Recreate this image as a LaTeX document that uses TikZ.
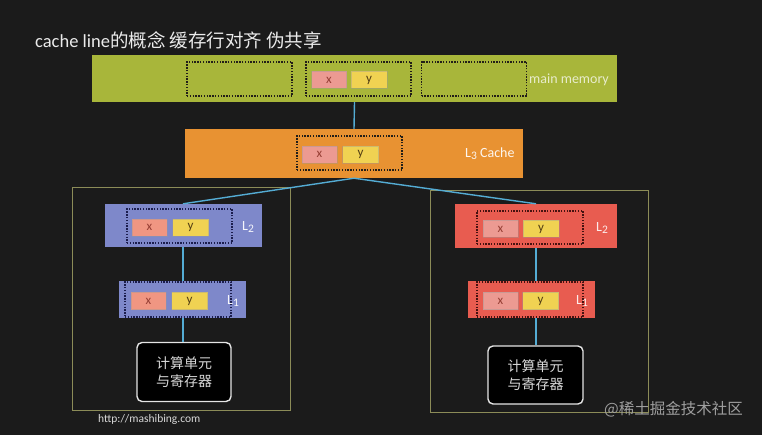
\documentclass[tikz,border=0pt]{standalone}
\usepackage{fontspec}
\setmainfont{Carlito}
\newfontfamily\cjk{Noto Sans CJK SC}
\usetikzlibrary{positioning,calc}
\definecolor{boardbg}{RGB}{27,27,27}
\definecolor{memgreen}{RGB}{168,182,58}
\definecolor{lthreeorange}{RGB}{232,146,50}
\definecolor{coreblue}{RGB}{126,136,202}
\definecolor{corered}{RGB}{232,92,80}
\definecolor{xpink}{RGB}{236,154,146}
\definecolor{yyellow}{RGB}{240,210,82}
\definecolor{dotdark}{RGB}{34,30,24}
\definecolor{dotnavy}{RGB}{28,30,78}
\definecolor{dotred}{RGB}{70,18,16}
\definecolor{wireblue}{RGB}{84,172,212}
\definecolor{frameolive}{RGB}{140,140,88}
\definecolor{memtext}{RGB}{232,236,204}
\newcommand{\lvlsub}[1]{\raisebox{-0.35ex}{\fontsize{11.5}{12}\selectfont #1}}
\tikzset{
    % Define bar and cell styles
    levelbar/.style={
        rectangle, draw=none, inner sep=0pt
    },
    linebox/.style={
        rectangle, draw=#1, line width=1.5pt,
        dash pattern=on 1.4pt off 1.4pt,
        minimum width=105pt, minimum height=34pt, inner sep=0pt
    },
    xcell/.style={
        rectangle, fill=xpink, draw=black!40, draw opacity=0.4,
        minimum width=35pt, minimum height=17pt, inner sep=0pt,
        text={rgb,255:red,150;green,62;blue,52},
        font=\fontsize{13}{15}\selectfont
    },
    ycell/.style={
        rectangle, fill=yyellow, draw=black!40, draw opacity=0.4,
        minimum width=36pt, minimum height=17pt, inner sep=0pt,
        text={rgb,255:red,82;green,62;blue,20},
        font=\fontsize{13}{15}\selectfont
    },
    levellabel/.style={
        anchor=west, inner sep=0pt, text=white!92!coreblue,
        font=\fontsize{14}{16}\selectfont
    },
    cpubox/.style={
        rectangle, draw=white!90!black, fill=black, line width=1.4pt,
        rounded corners=5pt, minimum width=94pt, minimum height=59pt,
        align=center, text=white!85!black,
        font=\cjk\fontsize{14}{18}\selectfont
    },
    coreframe/.style={
        rectangle, draw=frameolive, line width=0.9pt, inner sep=0pt
    },
    wire/.style={
        draw=wireblue, line width=1.4pt
    }
}
\begin{document}
\begin{tikzpicture}[x=1pt, y=-1pt]

% board
\fill[boardbg] (0,0) rectangle (762,435);
\useasboundingbox (0,0) rectangle (762,435);

% title
\node[anchor=west, inner sep=0pt, text=white!92!black,
      font=\fontsize{18.5}{22}\selectfont] (title) at (35,40)
      {cache line{\cjk 的概念 缓存行对齐 伪共享}};

% frames round the two cores
\node[coreframe, minimum width=218pt, minimum height=223pt] (frameA) at (181,298.5) {};
\node[coreframe, minimum width=218pt, minimum height=222pt] (frameB) at (539,301) {};

% main memory
\node[levelbar, fill=memgreen, minimum width=525pt, minimum height=47pt] (mem) at (354.5,78.5) {};
\foreach \cx/\nm in {239.5/memA, 358.5/memB, 474/memC}
    \node[linebox=dotdark] (\nm) at (\cx,79) {};
\node[xcell] (memx) at (329,80) {x};
\node[ycell] (memy) at (369,80) {y};
\node[levellabel, text=memtext] (memlabel) at (529,80) {main memory};

% L3
\node[levelbar, fill=lthreeorange, minimum width=338pt, minimum height=49pt] (lthree) at (354,153.5) {};
\node[linebox=dotdark] (lthreeline) at (349.5,153) {};
\node[xcell] (lthreex) at (319.5,154.5) {x};
\node[ycell] (lthreey) at (360.5,154.5) {y};
\node[levellabel, text=white!92!lthreeorange] (lthreelabel) at (465,154) {L\lvlsub{3} Cache};

% left core
\node[levelbar, fill=coreblue, minimum width=157pt, minimum height=43pt] (ltwoA) at (183,225.5) {};
\node[linebox=dotnavy] (ltwoAline) at (179.5,226) {};
\node[xcell, fill={rgb,255:red,240;green,150;blue,130}] (ltwoAx) at (149.5,227.5) {x};
\node[ycell] (ltwoAy) at (190.5,227.5) {y};
\node[levellabel] (ltwoAlabel) at (242,227) {L\lvlsub{2}};

\node[levelbar, fill=coreblue, minimum width=127pt, minimum height=37pt] (loneA) at (182.5,299.5) {};
\node[linebox=dotnavy, minimum width=106pt, minimum height=35pt] (loneAline) at (178,299.5) {};
\node[xcell, fill={rgb,255:red,240;green,150;blue,130}] (loneAx) at (148.5,301) {x};
\node[ycell] (loneAy) at (189.5,301) {y};
\node[levellabel] (loneAlabel) at (227,301) {L\lvlsub{1}};

\node[cpubox] (cpuA) at (184,372) {计算单元\\与寄存器};

% right core
\node[levelbar, fill=corered, minimum width=162pt, minimum height=44pt] (ltwoB) at (536,226) {};
\node[linebox=dotred, minimum width=106pt, minimum height=33pt] (ltwoBline) at (530,227.5) {};
\node[xcell] (ltwoBx) at (500.5,229) {x};
\node[ycell] (ltwoBy) at (541,229) {y};
\node[levellabel, text=white!88!corered] (ltwoBlabel) at (596,228) {L\lvlsub{2}};

\node[levelbar, fill=corered, minimum width=127pt, minimum height=37pt] (loneB) at (531.5,299.5) {};
\node[linebox=dotred, minimum width=106pt, minimum height=35pt] (loneBline) at (530,299.5) {};
\node[xcell] (loneBx) at (500.5,301) {x};
\node[ycell] (loneBy) at (540.5,301) {y};
\node[levellabel, text=white!88!corered] (loneBlabel) at (576,301) {L\lvlsub{1}};

\node[cpubox, minimum width=95pt, minimum height=58pt] (cpuB) at (535.5,375) {计算单元\\与寄存器};

% connectors
\draw[wire] (mem.south) -- (lthree.north);
\draw[wire] (lthree.south) -- (ltwoA.north);
\draw[wire] (lthree.south) -- (ltwoB.north);
\draw[wire] (ltwoA.south) -- (ltwoA.south |- loneA.north);
\draw[wire] (ltwoA.south |- loneA.south) -- (ltwoA.south |- cpuA.north);
\draw[wire] (ltwoB.south) -- (ltwoB.south |- loneB.north);
\draw[wire] (ltwoB.south |- loneB.south) -- (ltwoB.south |- cpuB.north);

% footer texts
\node[anchor=west, inner sep=0pt, text=white!85!black,
      font=\fontsize{11.5}{13}\selectfont] (url) at (98,419) {http://mashibing.com};
\node[anchor=west, inner sep=0pt, text=white!62!black,
      font=\cjk\fontsize{15.5}{18}\selectfont] (mark) at (604,409) {@稀土掘金技术社区};

\end{tikzpicture}
\end{document}
